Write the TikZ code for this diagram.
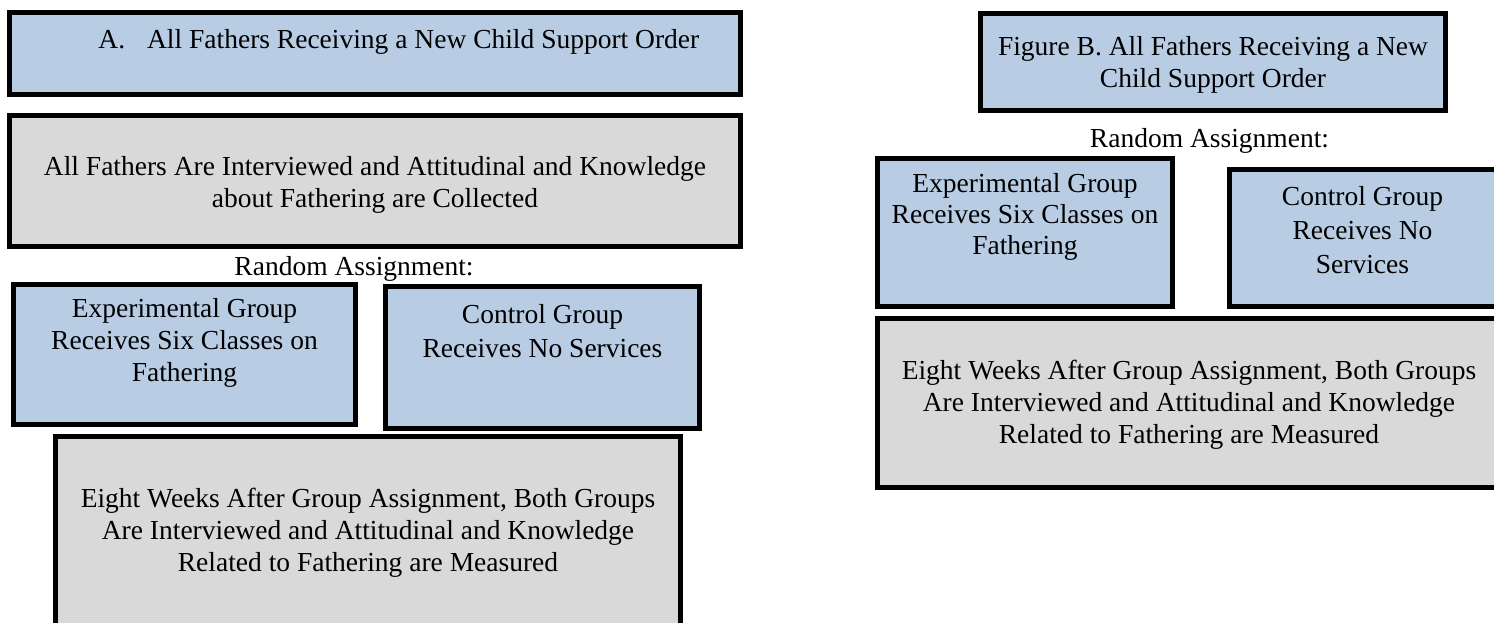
\documentclass[tikz,border=0pt]{standalone}
\usepackage{fontspec}
\setmainfont{Liberation Serif}
\usetikzlibrary{fit}
\definecolor{boxblue}{HTML}{B8CCE4}
\definecolor{boxgray}{HTML}{D9D9D9}
\begin{document}
\begin{tikzpicture}[x=0.5pt,y=-0.5pt,
  frame/.style={rectangle, draw=black, line width=2.5pt, inner sep=-1.25pt},
  bluebox/.style={frame, fill=boxblue},
  graybox/.style={frame, fill=boxgray},
  % multi-line texts are placed by the baseline of their last line
  txt/.style={inner sep=0pt, align=center, anchor=base, font=\fontsize{13.75}{16}\selectfont},
  loose/.style={font=\fontsize{13.75}{17}\selectfont},
  tight/.style={font=\fontsize{13.75}{15.4}\selectfont}
]
\useasboundingbox (0,0) rectangle (1494,622);
\clip (0,0) rectangle (1494,622);

% ---- left flow chart (A) ----
\node[bluebox, fit={(7,10) (743,97)}] (a1) {};
\node[graybox, fit={(7,113) (743,249)}] (a2) {};
\node[bluebox, fit={(11,282) (358,427)}] (expA) {};
\node[bluebox, fit={(383,284) (702,431)}] (ctlA) {};
\node[graybox, fit={(53,434) (683,640)}] (postA) {};

\node[txt, anchor=base west] (a1t) at (98,48) {A.\hspace{11pt}All Fathers Receiving a New Child Support Order};
\node[txt] (a2t) at (375,207) {All Fathers Are Interviewed and Attitudinal and Knowledge\\about Fathering are Collected};
\node[txt] (raA) at (354,275) {Random Assignment:};
\node[txt] (expAt) at (184.5,381) {Experimental Group\\Receives Six Classes on\\Fathering};
\node[txt, loose] (ctlAt) at (542.5,357) {Control Group\\Receives No Services};
\node[txt] (postAt) at (368,571) {Eight Weeks After Group Assignment, Both Groups\\Are Interviewed and Attitudinal and Knowledge\\Related to Fathering are Measured};

% ---- right flow chart (B) ----
\node[bluebox, fit={(978,11) (1448,113)}] (b1) {};
\node[bluebox, fit={(875,156) (1175,309)}] (expB) {};
\node[bluebox, fit={(1227,167) (1499,309)}] (ctlB) {};
\node[graybox, fit={(875,316) (1503,490)}] (postB) {};

\node[txt] (b1t) at (1213,87) {Figure B. All Fathers Receiving a New\\Child Support Order};
\node[txt] (raB) at (1209.5,147) {Random Assignment:};
\node[txt, tight] (expBt) at (1025,254) {Experimental Group\\Receives Six Classes on\\Fathering};
\node[txt, loose] (ctlBt) at (1362.5,273) {Control Group\\Receives No\\Services};
\node[txt] (postBt) at (1189,443) {Eight Weeks After Group Assignment, Both Groups\\Are Interviewed and Attitudinal and Knowledge\\Related to Fathering are Measured};
\end{tikzpicture}
\end{document}
